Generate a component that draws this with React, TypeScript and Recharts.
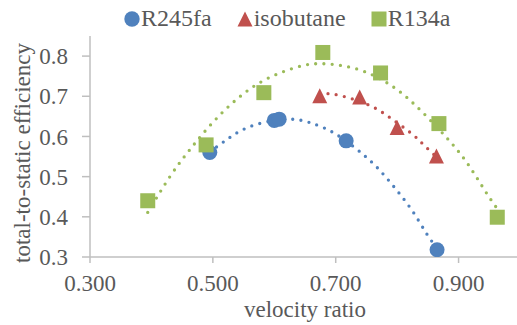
import React from "react"
import {
  ComposedChart,
  Label,
  Legend,
  Line,
  Scatter,
  XAxis,
  YAxis,
} from "recharts"

// velocity ratio vs total-to-static efficiency
const r245faRatio = [0.495, 0.6, 0.608, 0.717, 0.865]
const r245faEff = [0.56, 0.64, 0.643, 0.589, 0.318]

const isobutaneRatio = [0.674, 0.739, 0.8, 0.864]
const isobutaneEff = [0.7, 0.697, 0.621, 0.55]

const r134aRatio = [0.394, 0.489, 0.583, 0.679, 0.773, 0.868, 0.963]
const r134aEff = [0.44, 0.579, 0.709, 0.809, 0.758, 0.632, 0.399]

// dotted poly trendlines
const r245faTrendRatio = [0.495, 0.529, 0.567, 0.621, 0.661, 0.7, 0.744, 0.774, 0.801, 0.826, 0.848, 0.865]
const r245faTrendEff = [0.561, 0.599, 0.628, 0.643, 0.633, 0.606, 0.556, 0.512, 0.463, 0.412, 0.358, 0.322]

const isobutaneTrendRatio = [0.674, 0.704, 0.754, 0.789, 0.822, 0.842, 0.864]
const isobutaneTrendEff = [0.706, 0.703, 0.678, 0.646, 0.609, 0.581, 0.549]

const r134aTrendRatio = [0.394, 0.431, 0.464, 0.5, 0.54, 0.586, 0.638, 0.679, 0.734, 0.785, 0.828, 0.877, 0.913, 0.943, 0.963]
const r134aTrendEff = [0.411, 0.502, 0.57, 0.635, 0.694, 0.742, 0.773, 0.781, 0.768, 0.732, 0.68, 0.603, 0.536, 0.465, 0.42]

const xTicks = [0.3, 0.5, 0.7, 0.9]
const yTicks = [0.3, 0.4, 0.5, 0.6, 0.7, 0.8]

const BLUE = "#4F81BD"
const RED = "#C0504D"
const GREEN = "#9BBB59"
const TEXT = "#595959"
const AXIS = "#BFBFBF"
const FONT = "'Liberation Serif', serif"

const toPoints = (xs: number[], ys: number[]) => xs.map((x, i) => ({ x, y: ys[i] }))

const circleShape = (p: any) => <circle cx={p.cx} cy={p.cy} r={7.5} fill={BLUE} />
const triangleShape = (p: any) => (
  <polygon
    points={`${p.cx},${p.cy - 8} ${p.cx + 7.5},${p.cy + 7} ${p.cx - 7.5},${p.cy + 7}`}
    fill={RED}
  />
)
const squareShape = (p: any) => (
  <rect x={p.cx - 7.5} y={p.cy - 7.5} width={15} height={15} fill={GREEN} />
)

const legendItems = [
  { name: "R245fa", icon: <circle cx={8} cy={8} r={7.7} fill={BLUE} /> },
  { name: "isobutane", icon: <polygon points="8,0.5 15.5,15.5 0.5,15.5" fill={RED} /> },
  { name: "R134a", icon: <rect x={0.5} y={0.5} width={15} height={15} fill={GREEN} /> },
]

function renderLegend() {
  return (
    <div style={{ display: "flex", alignItems: "center", fontFamily: FONT, fontSize: 24, color: TEXT, whiteSpace: "nowrap" }}>
      {legendItems.map((it) => (
        <span key={it.name} style={{ display: "flex", alignItems: "center", marginRight: 25 }}>
          <svg width={16} height={16}>{it.icon}</svg>
          <span style={{ marginLeft: 1 }}>{it.name}</span>
        </span>
      ))}
    </div>
  )
}

const dotted = {
  strokeWidth: 3.3,
  strokeDasharray: "0 8.3",
  strokeLinecap: "round" as const,
  dot: false,
  activeDot: false,
  isAnimationActive: false,
  type: "natural" as const,
}

export default function App() {
  const tick = { fontSize: 23, fill: TEXT, fontFamily: FONT }
  return (
    <div style={{ position: "fixed", left: 0, top: 0, width: 517, height: 325, overflow: "hidden", background: "#fff", fontFamily: FONT }}>
      <ComposedChart width={520} height={325} margin={{ top: 36, right: 0, bottom: 0, left: 0 }}>
        <XAxis
          type="number"
          dataKey="x"
          domain={[0.3, 1.0]}
          ticks={xTicks}
          tickFormatter={(v: number) => v.toFixed(3)}
          height={68}
          tick={tick}
          tickSize={6}
          tickMargin={12}
          axisLine={{ stroke: AXIS, strokeWidth: 1.5 }}
          tickLine={{ stroke: AXIS, strokeWidth: 1.5 }}
          allowDataOverflow
        >
          <Label
            value="velocity ratio"
            position="insideBottom"
            offset={8}
            style={{ fontSize: 23, fill: TEXT, fontFamily: FONT }}
          />
        </XAxis>
        <YAxis
          type="number"
          dataKey="y"
          domain={[0.3, 0.85]}
          ticks={yTicks}
          tickFormatter={(v: number) => v.toFixed(1)}
          width={90}
          tick={tick}
          tickSize={8}
          tickMargin={14}
          axisLine={{ stroke: AXIS, strokeWidth: 1.5 }}
          tickLine={{ stroke: AXIS, strokeWidth: 1.5 }}
          allowDataOverflow
        >
          <Label
            content={() => (
              <text
                x={22}
                y={153}
                transform="rotate(-90 22 153)"
                textAnchor="middle"
                dominantBaseline="central"
                fontFamily={FONT}
                fontSize={23}
                fill={TEXT}
              >
                total-to-static efficiency
              </text>
            )}
          />
        </YAxis>
        <Legend
          verticalAlign="middle"
          content={renderLegend}
          wrapperStyle={{ top: 5, left: 124, width: "auto", height: "auto" }}
        />
        <Scatter name="R245fa" data={toPoints(r245faRatio, r245faEff)} dataKey="y" shape={circleShape} isAnimationActive={false} />
        <Scatter name="isobutane" data={toPoints(isobutaneRatio, isobutaneEff)} dataKey="y" shape={triangleShape} isAnimationActive={false} />
        <Scatter name="R134a" data={toPoints(r134aRatio, r134aEff)} dataKey="y" shape={squareShape} isAnimationActive={false} />
        <Line data={toPoints(r245faTrendRatio, r245faTrendEff)} dataKey="y" stroke={BLUE} legendType="none" {...dotted} />
        <Line data={toPoints(isobutaneTrendRatio, isobutaneTrendEff)} dataKey="y" stroke={RED} legendType="none" {...dotted} />
        <Line data={toPoints(r134aTrendRatio, r134aTrendEff)} dataKey="y" stroke={GREEN} legendType="none" {...dotted} />
      </ComposedChart>
    </div>
  )
}
